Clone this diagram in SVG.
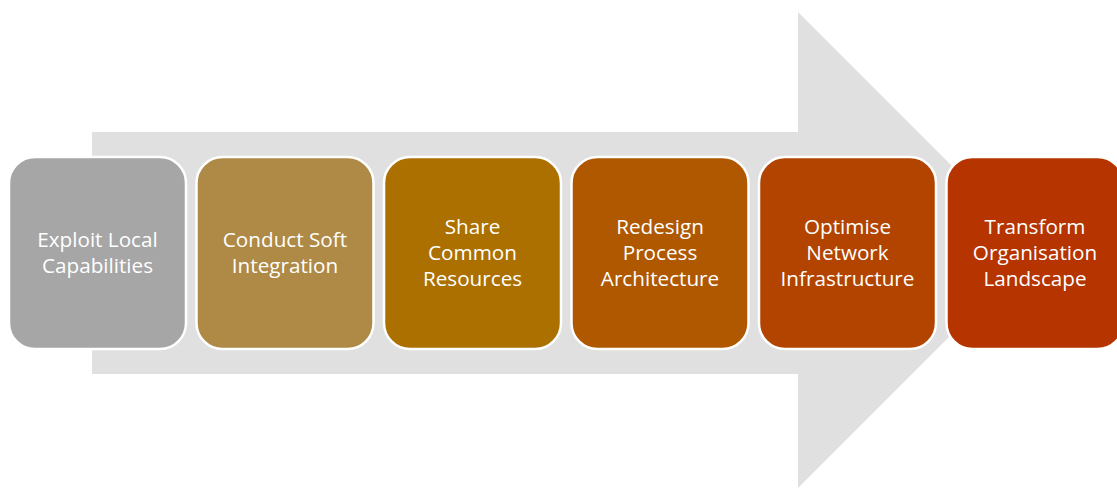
<svg xmlns="http://www.w3.org/2000/svg" width="1117" height="488" viewBox="0 0 1117 488">
<style>
.box{stroke:#FFFFFF;stroke-width:2.5}
.t{font-family:"Open Sans",Lato,sans-serif;font-size:20.7px;fill:#FFFFFF;text-anchor:middle}
</style>
<rect width="1117" height="488" fill="#FFFFFF"/>
<g id="arrow">
<polygon points="92,132 798,132 798,12 1036,250 798,488 798,374 92,374" fill="#E0E0E0"/>
</g>
<g id="connectors"></g>
<g id="n1"><rect class="box" x="9" y="157" width="177" height="192" rx="26" fill="#A6A6A6"/>
<text class="t" x="97.5" y="247">Exploit Local</text><text class="t" x="97.5" y="273">Capabilities</text></g>
<g id="n2"><rect class="box" x="196.5" y="157" width="177" height="192" rx="26" fill="#AE8A46"/>
<text class="t" x="285" y="247">Conduct Soft</text><text class="t" x="285" y="273">Integration</text></g>
<g id="n3"><rect class="box" x="384" y="157" width="177" height="192" rx="26" fill="#AB7000"/>
<text class="t" x="472.5" y="234">Share</text><text class="t" x="472.5" y="260">Common</text><text class="t" x="472.5" y="286">Resources</text></g>
<g id="n4"><rect class="box" x="571.5" y="157" width="177" height="192" rx="26" fill="#B05800"/>
<text class="t" x="660" y="234">Redesign</text><text class="t" x="660" y="260">Process</text><text class="t" x="660" y="286">Architecture</text></g>
<g id="n5"><rect class="box" x="759" y="157" width="177" height="192" rx="26" fill="#B24400"/>
<text class="t" x="847.5" y="234">Optimise</text><text class="t" x="847.5" y="260">Network</text><text class="t" x="847.5" y="286">Infrastructure</text></g>
<g id="n6"><rect class="box" x="946.5" y="157" width="177" height="192" rx="26" fill="#B53400"/>
<text class="t" x="1035" y="234">Transform</text><text class="t" x="1035" y="260">Organisation</text><text class="t" x="1035" y="286">Landscape</text></g>
</svg>
